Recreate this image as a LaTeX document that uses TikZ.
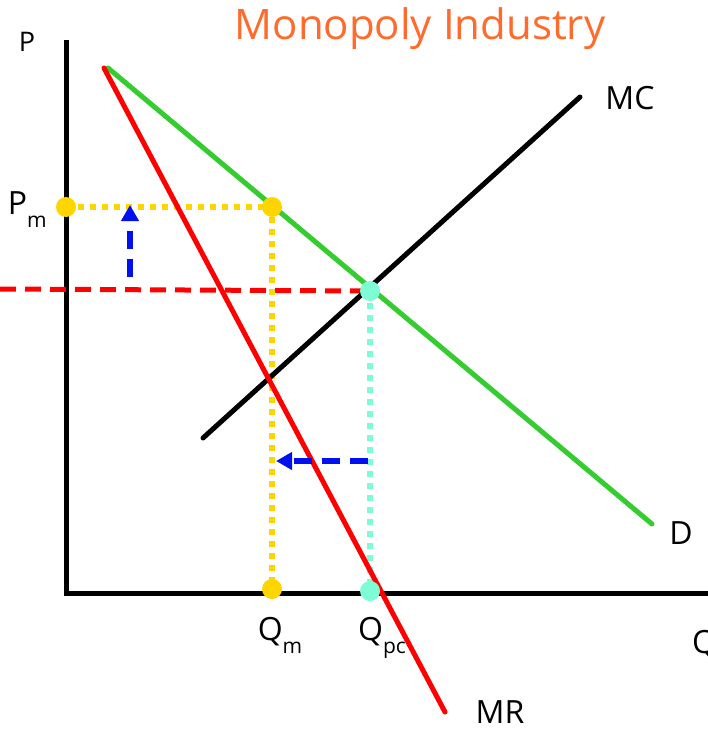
\documentclass[tikz,border=0pt]{standalone}
\usepackage{fontspec}
\setmainfont{Open Sans}
\usepackage{xcolor}
\usetikzlibrary{arrows.meta}
\usetikzlibrary{positioning}

\definecolor{titleorange}{HTML}{FF6B2C}
\definecolor{demandgreen}{HTML}{35CC30}
\definecolor{pmyellow}{HTML}{FFD500}
\definecolor{pcaqua}{HTML}{7DFCD6}
\definecolor{shiftblue}{HTML}{0010F0}

\newcommand{\lowsub}[1]{\raisebox{-13pt}{\fontsize{21}{21}\selectfont #1}}

\begin{document}
\begin{tikzpicture}[x=1pt,y=-1pt]
			\tikzstyle{every node}=[inner sep=0pt,font=\fontsize{32}{32}\selectfont]
			\tikzstyle{dot}=[circle,minimum size=20pt,draw=none]
			\tikzstyle{curve}=[line width=5pt,line cap=round]
			\tikzstyle{guide}=[line width=5.5pt,dash pattern=on 6pt off 6pt]
			\tikzstyle{moveArrow}=[line width=6pt,shiftblue,dash pattern=on 18pt off 10pt,-{Triangle[length=16pt,width=17pt]}]

			\useasboundingbox (0,0) rectangle (707,730);

			% points
			\coordinate (o) at (66,593);
			\coordinate (ytop) at (66,40);
			\coordinate (xend) at (712,593);
			\coordinate (mcstart) at (203,438);
			\coordinate (mcend) at (580,97);
			\coordinate (dstart) at (108,68);
			\coordinate (dend) at (652,524);
			\coordinate (mrstart) at (104,68);
			\coordinate (mrend) at (445,712);
			\coordinate (pcleft) at (0,289);
			\coordinate (pcd) at (370,291);
			\coordinate (pmaxis) at (66,207);
			\coordinate (pmd) at (272,207);
			\coordinate (qm) at (272,589);
			\coordinate (qpc) at (370,591);

			% axes
			\draw[line width=5pt] (ytop) -- (o) -- (xend);

			% guide lines
			\draw[line width=5pt,red,dash pattern=on 16pt off 9pt] (pcleft) -- (pcd);
			\draw[guide,pmyellow] (pmaxis) -- (pmd) -- (qm);
			\draw[guide,pcaqua] (pcd) -- (qpc);

			% curves
			\draw[curve,black] (mcstart) -- (mcend);
			\draw[curve,demandgreen] (dstart) -- (dend);
			\draw[curve,red] (mrstart) -- (mrend);

			% moves
			\coordinate (upfrom) at (130,277);
			\coordinate (upto) at (130,205);
			\coordinate (leftfrom) at (368,461);
			\coordinate (leftto) at (276,461);
			\draw[moveArrow] (upfrom) -- (upto);
			\draw[moveArrow] (leftfrom) -- (leftto);

			% dots
			\node (pmdot) [dot,fill=pmyellow] at (pmaxis) {};
			\node (pmddot) [dot,fill=pmyellow] at (pmd) {};
			\node (qmdot) [dot,fill=pmyellow] at (qm) {};
			\node (pcdot) [dot,fill=pcaqua] at (pcd) {};
			\node (qpcdot) [dot,fill=pcaqua] at (qpc) {};

			% labels
			\node (title) at (420,29) [text=titleorange,font=\fontsize{42}{42}\selectfont] {Monopoly Industry};
			\node (plabel) at (27,42) [font=\fontsize{27}{27}\selectfont] {P};
			\node (pmlabel) [left=9pt of pmdot,yshift=-3pt] {P\lowsub{m}};
			\node (qmlabel) [below=18pt of qmdot,xshift=8pt] {Q\lowsub{m}};
			\node (qpclabel) [below=16pt of qpcdot,xshift=12pt] {Q\lowsub{pc}};
			\node (mclabel) at (630,98) {MC};
			\node (dlabel) at (681,533) {D};
			\node (mrlabel) at (500,712) {MR};
			\node (qlabel) [anchor=west] at (692,645) {Q};
\end{tikzpicture}
\end{document}
